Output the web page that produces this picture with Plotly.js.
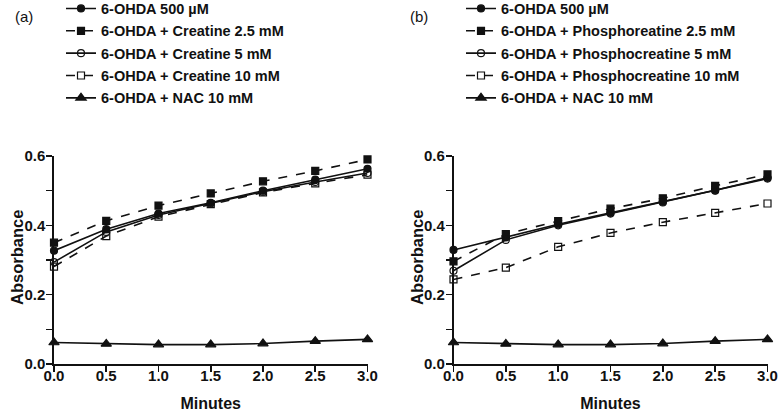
<!DOCTYPE html>
<html>
<head>
<meta charset="utf-8">
<script src="https://cdn.plot.ly/plotly-3.0.1.min.js"></script>
<style>html,body{margin:0;padding:0;background:#fff;}#chart{width:781px;height:413px;}</style>
</head>
<body>
<div id="chart"></div>
<script>
// ---- data ----
const minutes = [0, 0.5, 1.0, 1.5, 2.0, 2.5, 3.0];
const xTickVals = [0, 0.5, 1.0, 1.5, 2.0, 2.5, 3.0];
const yTickVals = [0, 0.2, 0.4, 0.6];

// Panel (a)
const namesA = ["6-OHDA 500 \u00b5M", "6-OHDA + Creatine 2.5 mM", "6-OHDA + Creatine 5 mM", "6-OHDA + Creatine 10 mM", "6-OHDA + NAC 10 mM"];
const ohdaA   = [0.327, 0.389, 0.434, 0.465, 0.500, 0.532, 0.563];
const cr25A   = [0.350, 0.413, 0.457, 0.492, 0.527, 0.557, 0.590];
const cr5A    = [0.294, 0.381, 0.430, 0.463, 0.497, 0.525, 0.551];
const cr10A   = [0.281, 0.369, 0.425, 0.461, 0.495, 0.521, 0.546];
const nacA    = [0.062, 0.058, 0.056, 0.056, 0.059, 0.066, 0.071];

// Panel (b)
const namesB = ["6-OHDA 500 \u00b5M", "6-OHDA + Phosphoreatine 2.5 mM", "6-OHDA + Phosphocreatine 5 mM", "6-OHDA + Phosphocreatine 10 mM", "6-OHDA + NAC 10 mM"];
const ohdaB   = [0.329, 0.365, 0.403, 0.436, 0.468, 0.501, 0.537];
const pcr25B  = [0.296, 0.375, 0.412, 0.448, 0.478, 0.514, 0.547];
const pcr5B   = [0.269, 0.358, 0.400, 0.434, 0.466, 0.500, 0.535];
const pcr10B  = [0.244, 0.278, 0.338, 0.378, 0.409, 0.436, 0.463];
const nacB    = [0.062, 0.058, 0.056, 0.056, 0.059, 0.066, 0.071];

const panelLabels = ["(a)", "(b)"];
const yTitle = "Absorbance";
const xTitle = "Minutes";

// ---- styles ----
const FONT = "Liberation Sans, Arial, Helvetica, sans-serif";
const styles = [
  {symbol: "circle", size: 7, dash: "solid"},
  {symbol: "square", size: 7, dash: "dash"},
  {symbol: "circle-open", size: 7, dash: "solid"},
  {symbol: "square-open", size: 7, dash: "dash"},
  {symbol: "triangle-up", size: 9, dash: "solid"}
];

function mk(y, name, i, xa, ya, leg) {
  const s = styles[i];
  return {
    type: "scatter", mode: "lines+markers", x: minutes, y: y, name: name,
    xaxis: xa, yaxis: ya, legend: leg, legendgroup: leg + i,
    cliponaxis: false,
    line: {color: "#111", width: 1.6, dash: s.dash},
    marker: {symbol: s.symbol, size: s.size, color: "#111", line: {color: "#111", width: 1.2}}
  };
}

const seriesA = [ohdaA, cr25A, cr5A, cr10A, nacA];
const seriesB = [ohdaB, pcr25B, pcr5B, pcr10B, nacB];
const traces = [];
seriesA.forEach((y, i) => traces.push(mk(y, namesA[i], i, "x", "y", "legend")));
seriesB.forEach((y, i) => traces.push(mk(y, namesB[i], i, "x2", "y2", "legend2")));

const tickFont = {family: FONT, size: 15, color: "#111", weight: "bold"};
const titleFont = {family: FONT, size: 16, color: "#111", weight: "bold"};
const yTitleFont = {family: FONT, size: 16.5, color: "#111", weight: "bold"};

function xax(domain, anchor) {
  return {
    domain: domain, anchor: anchor, range: [0, 3], tickvals: xTickVals, tickformat: ".1f", tickangle: 0,
    showline: true, linecolor: "#111", linewidth: 1.6, ticks: "outside", ticklen: 6, tickwidth: 1.6, tickcolor: "#111",
    showgrid: false, zeroline: false, tickfont: tickFont, automargin: false, ticklabelstandoff: -9,
    title: {text: xTitle, font: titleFont, standoff: 15}
  };
}
function yax(anchor) {
  return {
    domain: [0, 1], anchor: anchor, range: [0, 0.6], tickvals: yTickVals, tickformat: ".1f",
    showline: true, linecolor: "#111", linewidth: 1.6, ticks: "outside", ticklen: 6, tickwidth: 1.6, tickcolor: "#111",
    minor: {dtick: 0.1, tick0: 0, ticks: "outside", ticklen: 6, tickwidth: 1.6, tickcolor: "#111", showgrid: false},
    showgrid: false, zeroline: false, tickfont: tickFont, automargin: false, ticklabelstandoff: -2
  };
}

const legFont = {family: FONT, size: 14.5, color: "#111", weight: "bold"};
const plotT = 156, plotB = 49;
const plotH = 413 - plotT - plotB;
const yMid = 0.5 - (258 - (plotT + plotH / 2)) / plotH;
const legTopY = 1 + (plotT + 7.5) / plotH;
const layout = {
  width: 781, height: 413,
  margin: {l: 0, r: 0, t: plotT, b: plotB, autoexpand: false},
  paper_bgcolor: "#fff", plot_bgcolor: "#fff",
  showlegend: true,
  xaxis: xax([54/781, 367.5/781], "y"),
  yaxis: yax("x"),
  xaxis2: xax([453.5/781, 767.5/781], "y2"),
  yaxis2: yax("x2"),
  legend: {xref: "paper", yref: "paper", x: 61/781, y: legTopY, xanchor: "left", yanchor: "top",
    font: legFont, tracegroupgap: 0.5, traceorder: "grouped", bgcolor: "rgba(0,0,0,0)"},
  legend2: {xref: "paper", yref: "paper", x: 461/781, y: legTopY, xanchor: "left", yanchor: "top",
    font: legFont, tracegroupgap: 0.5, traceorder: "grouped", bgcolor: "rgba(0,0,0,0)"},
  annotations: [
    {text: panelLabels[0], xref: "paper", yref: "paper", x: 24/781, y: 1 + (plotT - 16.5)/plotH, xanchor: "center", yanchor: "middle", showarrow: false,
      font: {family: FONT, size: 15, color: "#111"}},
    {text: panelLabels[1], xref: "paper", yref: "paper", x: 418.5/781, y: 1 + (plotT - 16.5)/plotH, xanchor: "center", yanchor: "middle", showarrow: false,
      font: {family: FONT, size: 15, color: "#111"}},
    {text: yTitle, xref: "paper", yref: "paper", x: 17/781, y: yMid, xanchor: "center", yanchor: "middle", textangle: -90, showarrow: false,
      font: yTitleFont},
    {text: yTitle, xref: "paper", yref: "paper", x: 417/781, y: yMid, xanchor: "center", yanchor: "middle", textangle: -90, showarrow: false,
      font: yTitleFont}
  ]
};

Plotly.newPlot("chart", traces, layout, {displayModeBar: false, staticPlot: true});
</script>
</body>
</html>
